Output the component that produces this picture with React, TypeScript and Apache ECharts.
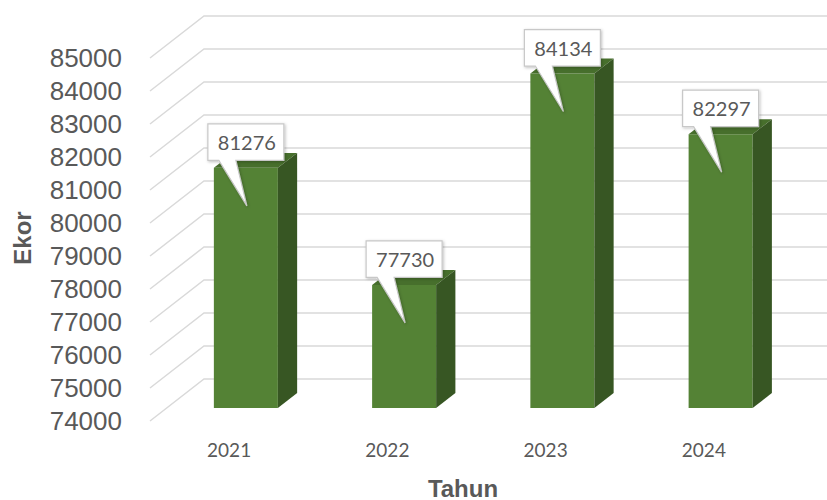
import React, { useEffect, useRef } from "react";
import * as echarts from "echarts";

const years = ["2021", "2022", "2023", "2024"];
const values = [81276, 77730, 84134, 82297];
const yTicks = [74000, 75000, 76000, 77000, 78000, 79000, 80000, 81000, 82000, 83000, 84000, 85000];
const yTitle = "Ekor";
const xTitle = "Tahun";

const DEPTH_X = 54;
const DEPTH_Y = -42;
const FRONT_T = 0.31;
const BACK_T = 0.667;
const HALF_BAR = 32;

const FRONT = "#548235";
const TOP = "#476f2c";
const SIDE = "#375623";
const GRID = "#d9d9d9";
const TEXT = "#595959";

export default function App() {
  const ref = useRef<HTMLDivElement>(null);
  useEffect(() => {
    if (!ref.current) return;
    const chart = echarts.init(ref.current, null, { renderer: "svg" });
    const option: any = {
      animation: false,
      backgroundColor: "#ffffff",
      grid: { left: 150, right: 44, top: 58, bottom: 79 },
      xAxis: {
        type: "category",
        data: years,
        axisLine: { show: false },
        axisTick: { show: false },
        axisLabel: { color: TEXT, fontFamily: "Lato", fontSize: 19, margin: 19 },
      },
      yAxis: {
        type: "value",
        min: 74000,
        max: 85000,
        interval: 1000,
        axisLine: { show: false },
        axisTick: { show: false },
        splitLine: { show: false },
        axisLabel: {
          color: TEXT,
          fontFamily: "Liberation Sans",
          fontSize: 26,
          margin: 28,
          verticalAlign: "middle",
          padding: [0, 0, 3, 0],
          formatter: (v: number) => String(v),
        },
      },
      graphic: [
        {
          type: "text",
          x: 22,
          y: 238,
          rotation: Math.PI / 2,
          style: { text: yTitle, fill: TEXT, font: "bold 24px 'Liberation Sans'", align: "center", verticalAlign: "middle" },
        },
        {
          type: "text",
          x: 463,
          y: 488,
          style: { text: xTitle, fill: TEXT, font: "bold 24px 'Liberation Sans'", align: "center", verticalAlign: "middle" },
        },
      ],
      series: [
        {
          type: "custom",
          clip: false,
          silent: true,
          data: yTicks.map((v) => [0, v]),
          renderItem: (params: any, api: any) => {
            const cs = params.coordSys;
            const p = api.coord([0, api.value(1)]);
            const y = p[1];
            return {
              type: "polyline",
              shape: {
                points: [
                  [cs.x, y],
                  [cs.x + DEPTH_X, y + DEPTH_Y],
                  [827, y + DEPTH_Y],
                ],
              },
              style: { stroke: GRID, lineWidth: 1.5, fill: null },
            };
          },
        },
        {
          type: "custom",
          clip: false,
          data: years.map((_, i) => [i, values[i]]),
          renderItem: (params: any, api: any) => {
            const i = api.value(0);
            const v = api.value(1);
            const top = api.coord([i, v]);
            const bot = api.coord([i, 74000]);
            const fdx = FRONT_T * DEPTH_X;
            const fdy = FRONT_T * DEPTH_Y;
            const sdx = (BACK_T - FRONT_T) * DEPTH_X;
            const sdy = (BACK_T - FRONT_T) * DEPTH_Y;
            const cx = top[0] + fdx;
            const yt = top[1] + fdy;
            const yb = bot[1] + fdy;
            const x1 = cx - HALF_BAR;
            const x2 = cx + HALF_BAR;
            const L = cx - 38;
            const R = cx + 38;
            const B = yt - 7.5;
            const T = B - 36.5;
            return {
              type: "group",
              children: [
                {
                  type: "rect",
                  shape: { x: x1, y: yt, width: x2 - x1, height: yb - yt },
                  style: { fill: FRONT },
                },
                {
                  type: "polygon",
                  shape: { points: [[x1, yt], [x2, yt], [x2 + sdx, yt + sdy], [x1 + sdx, yt + sdy]] },
                  style: { fill: TOP },
                },
                {
                  type: "polygon",
                  shape: { points: [[x2, yt], [x2 + sdx, yt + sdy], [x2 + sdx, yb + sdy], [x2, yb]] },
                  style: { fill: SIDE },
                },
                {
                  type: "polygon",
                  shape: {
                    points: [
                      [L, T],
                      [R, T],
                      [R, B],
                      [L + 28, B],
                      [cx + 1, yt + 38],
                      [L + 11, B],
                      [L, B],
                    ],
                  },
                  style: {
                    fill: "#ffffff",
                    stroke: "#c8c8c8",
                    lineWidth: 1.2,
                    shadowBlur: 3,
                    shadowColor: "rgba(0,0,0,0.25)",
                    shadowOffsetX: 1,
                    shadowOffsetY: 1,
                  },
                },
                {
                  type: "text",
                  x: cx + 1,
                  y: (T + B) / 2,
                  style: {
                    text: String(v),
                    fill: TEXT,
                    font: "20px Lato",
                    align: "center",
                    verticalAlign: "middle",
                  },
                },
              ],
            };
          },
        },
      ],
    };
    chart.setOption(option);
    return () => chart.dispose();
  }, []);
  return <div ref={ref} style={{ position: "fixed", left: 0, top: 0, width: 827, height: 500 }} />;
}
